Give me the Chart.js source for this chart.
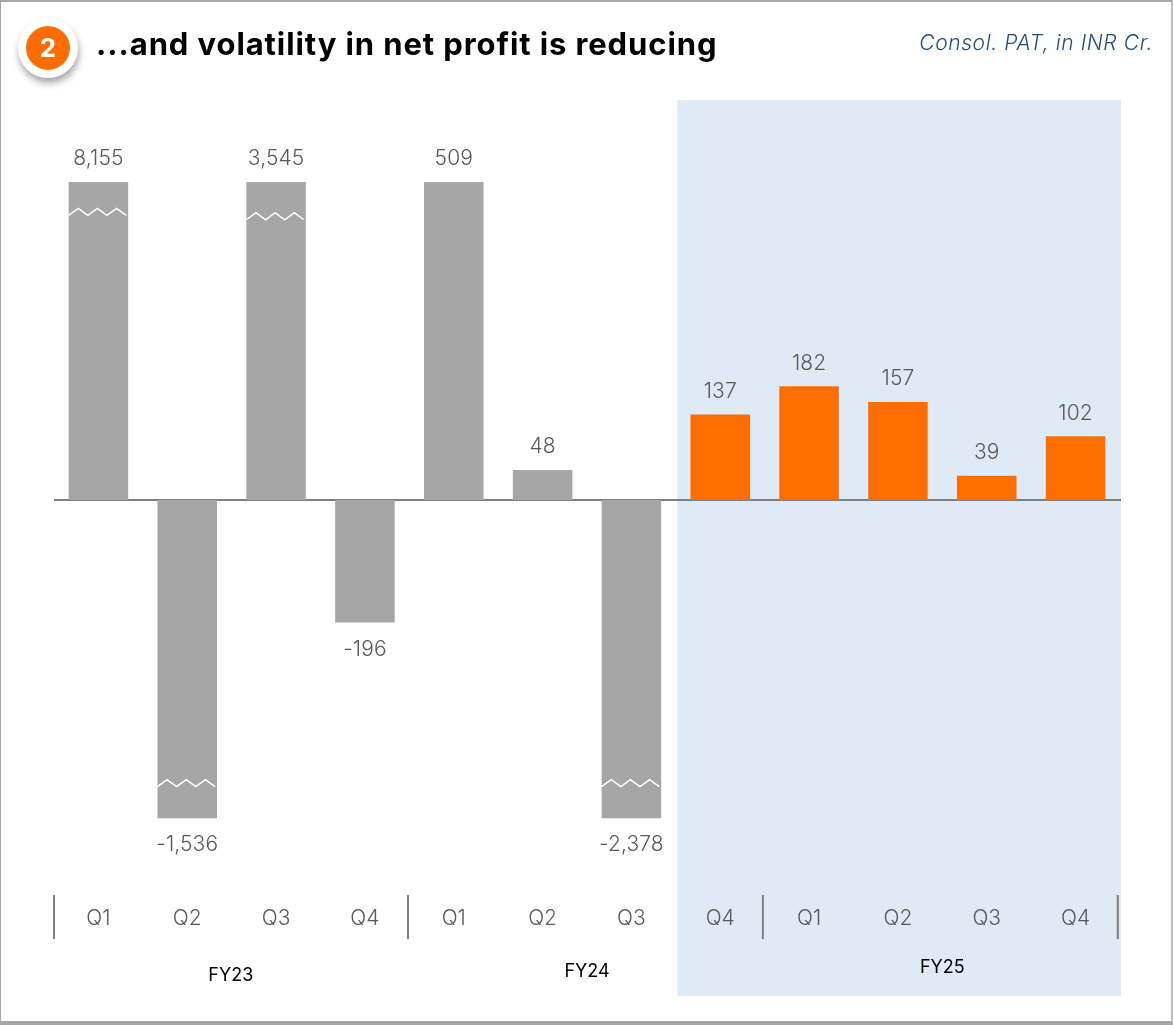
<!DOCTYPE html>
<html><head><meta charset="utf-8">
<script src="https://cdn.jsdelivr.net/npm/chart.js@4/dist/chart.umd.min.js"></script>
<style>
html,body{margin:0;padding:0;background:#fff;width:1173px;height:1025px;overflow:hidden}
#frame{position:absolute;left:0;top:0;width:1170px;height:1019px;border:1px solid #a6a6a6;border-top-width:2px;border-bottom:4px solid #a6a6a6;border-right:2px solid #c0c0c0;box-sizing:content-box}
canvas{position:absolute;left:0;top:0}
#badge{position:absolute;left:18px;top:18px;width:60px;height:60px;border-radius:50%;background:#fff;box-shadow:1px 5px 7px rgba(0,0,0,.35)}
#badge div{position:absolute;left:8px;top:8px;width:44px;height:44px;border-radius:50%;background:#ff6d00;color:#fff;font:700 26px/44px Inter,sans-serif;text-align:center}
#title{position:absolute;left:96px;top:24px;font:700 31px/40px Inter,sans-serif;letter-spacing:.9px;color:#000;white-space:nowrap}
#sub{position:absolute;right:20px;top:29px;font:italic 300 21px/28px Inter,sans-serif;letter-spacing:.6px;color:#1f4e79;white-space:nowrap}
</style></head><body>
<div id="frame"></div>
<canvas id="c" width="1173" height="1025"></canvas>
<div id="badge"><div>2</div></div>
<div id="title">...and volatility in net profit is reducing</div>
<div id="sub">Consol. PAT, in INR Cr.</div>
<script>
const quarters = ['Q1','Q2','Q3','Q4','Q1','Q2','Q3','Q4','Q1','Q2','Q3','Q4'];
const valueLabels = ['8,155','-1,536','3,545','-196','509','48','-2,378','137','182','157','39','102'];
// Heights as drawn: the largest bars are cut by an axis break at the 509 level
const drawnValues = [509,-509,509,-196,509,48,-509,137,182,157,39,102];
const breakIndices = [0,1,2,6];
const breakLevels = [461,-453,454,-453];
const fiscalYears = ['FY23','FY24','FY25'];
const fiscalCentres = [1.49,5.5,9.5];
const dividerPositions = [-0.5,3.485,7.48,11.475];
const GREY='#a6a6a6', ORANGE='#ff6d00', PANEL='#deeaf6', TXT='#595959';
const FONT='Inter, sans-serif';

const decorations = {
  id:'decorations',
  beforeDraw(chart){
    const {ctx,scales:{x}}=chart;
    ctx.save();
    ctx.fillStyle=PANEL;
    const l=x.getPixelForValue(6.5)+1.5, r=chart.chartArea.right+1;
    ctx.fillRect(l,100,r-l,896);
    ctx.restore();
  },
  beforeDatasetsDraw(chart){
    const {ctx}=chart;
    const y0=chart.scales.y.getPixelForValue(0);
    ctx.save();ctx.strokeStyle='#7f7f7f';ctx.lineWidth=2;
    ctx.beginPath();ctx.moveTo(chart.chartArea.left,y0);ctx.lineTo(chart.chartArea.right+1,y0);ctx.stroke();ctx.restore();
  },
  afterDatasetsDraw(chart){
    const {ctx,scales:{x,y}}=chart;
    const bars=chart.getDatasetMeta(0).data;
    ctx.save();
    // value labels
    ctx.font='300 21px '+FONT;ctx.fillStyle=TXT;ctx.textAlign='center';ctx.textBaseline='middle';
    ctx.letterSpacing='0.1px';
    bars.forEach((b,i)=>{
      const neg=drawnValues[i]<0;
      ctx.fillText(valueLabels[i],b.x,neg? b.y+27 : b.y-23);
    });
    ctx.letterSpacing='0px';
    // break marks
    ctx.strokeStyle='#fff';ctx.lineWidth=1.5;ctx.lineJoin='miter';
    breakIndices.forEach((idx,k)=>{
      const b=bars[idx], yc=y.getPixelForValue(breakLevels[k]);
      const half=b.width/2, step=(b.width-2)/6;
      ctx.beginPath();
      for(let s=0;s<=6;s++){
        const px=b.x-half+s*step, py=yc+(s%2===0?3.5:-3.5);
        s?ctx.lineTo(px,py):ctx.moveTo(px,py);
      }
      ctx.stroke();
    });
    // group dividers
    ctx.strokeStyle='#7f7f7f';ctx.lineWidth=2;
    dividerPositions.forEach(v=>{
      const px=x.getPixelForValue(v);
      ctx.beginPath();ctx.moveTo(px,895);ctx.lineTo(px,939);ctx.stroke();
    });
    // fiscal-year labels
    ctx.font='400 18px '+FONT;ctx.fillStyle='#000';
    const fyY=[976,972,968];
    fiscalYears.forEach((t,i)=>ctx.fillText(t,x.getPixelForValue(fiscalCentres[i]),fyY[i]));
    ctx.restore();
  }
};

new Chart(document.getElementById('c'),{
  type:'bar',
  data:{labels:quarters,datasets:[{data:drawnValues,
    backgroundColor:drawnValues.map((v,i)=>i>=7?ORANGE:GREY),
    barPercentage:0.67,categoryPercentage:1,borderWidth:0}]},
  options:{
    responsive:false,animation:false,
    layout:{padding:{left:54,right:53,top:100,bottom:100}},
    plugins:{legend:{display:false},tooltip:{enabled:false},title:{display:false}},
    scales:{
      x:{position:'bottom',grid:{display:false,drawTicks:false},border:{display:false},
        afterFit(s){s.height=30;},
        ticks:{color:TXT,font:{family:'Inter',size:21,weight:'300'},padding:11.5,maxRotation:0,autoSkip:false}},
      y:{min:-632,max:640,display:false}
    }
  },
  plugins:[decorations]
});
</script>
</body></html>
